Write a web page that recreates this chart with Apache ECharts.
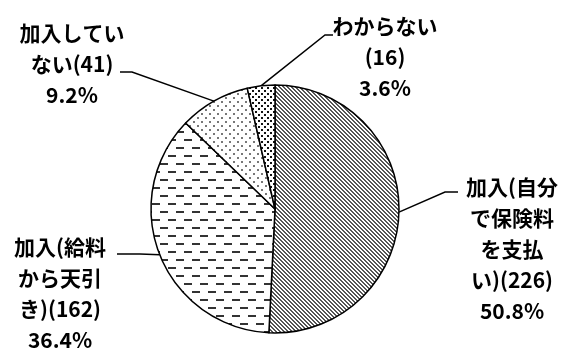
<!DOCTYPE html>
<html>
<head>
<meta charset="utf-8">
<script src="https://cdn.jsdelivr.net/npm/echarts@6/dist/echarts.min.js"></script>
<style>
  html, body { margin: 0; padding: 0; background: #fff; }
  #chart { width: 569px; height: 354px; }
</style>
</head>
<body>
<div id="chart"></div>
<script>
const categories = ['加入(自分で保険料を支払い)', '加入(給料から天引き)', '加入していない', 'わからない'];
const values = [226, 162, 41, 16];
// how each category name is wrapped in its label
const nameLines = [
  ['加入(自分', 'で保険料', 'を支払', 'い)'],
  ['加入(給料', 'から天引', 'き)'],
  ['加入してい', 'ない'],
  ['わからない', '']
];

const CX = 275, CY = 209, R = 124;

// label placement and leader line bends
const labelPos = [[512, 249], [60, 294], [72, 64], [385, 57]];
const bends = [
  [[445, 192], [458, 192]],
  [[140, 254], [117, 254]],
  [[132, 72], [120, 72]],
  [[325, 35], [333, 35]]
];

function makePattern(w, h, draw) {
  const c = document.createElement('canvas');
  c.width = w; c.height = h;
  const ctx = c.getContext('2d');
  ctx.fillStyle = '#fff';
  ctx.fillRect(0, 0, w, h);
  draw(ctx);
  return { image: c, repeat: 'repeat' };
}

const stripes = makePattern(4, 4, ctx => {
  ctx.fillStyle = '#555';
  for (let i = 0; i < 4; i++) {
    ctx.fillRect(i, i, 1, 1);
    ctx.fillRect((i + 1) % 4, i, 1, 1);
  }
});
const dashes = makePattern(16, 16, ctx => {
  ctx.fillStyle = '#333';
  ctx.fillRect(0, 3, 8, 2);
  ctx.fillRect(8, 11, 8, 2);
});
const sparseDots = makePattern(8, 8, ctx => {
  ctx.fillStyle = '#777';
  ctx.fillRect(1, 1, 2, 2);
  ctx.fillRect(5, 5, 2, 2);
});
const denseDots = makePattern(6, 6, ctx => {
  ctx.fillStyle = '#111';
  ctx.fillRect(0, 0, 2, 2);
  ctx.fillRect(3, 3, 2, 2);
});
const fills = [stripes, dashes, sparseDots, denseDots];

const total = values.reduce((a, b) => a + b, 0);
function edgePoint(idx) {
  let before = 0;
  for (let i = 0; i < idx; i++) before += values[i];
  const mid = (before + values[idx] / 2) / total;
  const ang = (90 - mid * 360) * Math.PI / 180;
  return [CX + R * Math.cos(ang), CY - R * Math.sin(ang)];
}

const chart = echarts.init(document.getElementById('chart'));
chart.setOption({
  animation: false,
  series: [{
    type: 'pie',
    center: [CX, CY],
    radius: R,
    startAngle: 90,
    clockwise: true,
    data: categories.map((name, i) => ({
      name,
      value: values[i],
      itemStyle: { color: fills[i] }
    })),
    itemStyle: { borderColor: '#000', borderWidth: 1.5 },
    emphasis: { disabled: true },
    label: {
      show: true,
      color: '#000',
      fontFamily: 'Noto Sans CJK JP',
      fontWeight: 'bold',
      fontSize: 21,
      lineHeight: 31,
      align: 'center',
      overflow: 'none',
      formatter(p) {
        const lines = nameLines[p.dataIndex].slice();
        lines[lines.length - 1] += '(' + p.value + ')';
        lines.push(p.percent.toFixed(1) + '%');
        return lines.join('\n');
      }
    },
    labelLine: { show: true, lineStyle: { color: '#000', width: 1.5 } },
    labelLayout(params) {
      const i = params.dataIndex;
      return {
        x: labelPos[i][0],
        y: labelPos[i][1],
        align: 'center',
        verticalAlign: 'middle',
        labelLinePoints: [edgePoint(i), bends[i][0], bends[i][1]]
      };
    }
  }]
});
</script>
</body>
</html>
